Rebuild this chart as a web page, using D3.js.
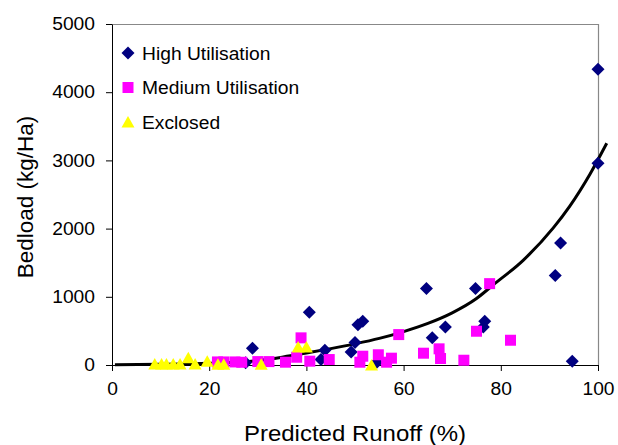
<!DOCTYPE html>
<html>
<head>
<meta charset="utf-8">
<script src="https://cdn.jsdelivr.net/npm/d3@7"></script>
<style>
body { margin: 0; background: white; }
text { font-family: 'Liberation Sans', Arial, sans-serif; fill: black; }
</style>
</head>
<body>
<script>
const width = 618;
const height = 445;

// High Utilisation  [predicted runoff %, bedload kg/Ha]
var highUtil = [[100, 4335], [100, 2958], [92.3, 1788], [91.2, 1314], [94.7, 56],
	[64.7, 1120], [74.8, 1120], [76.7, 641], [76.4, 559], [68.6, 559], [65.9, 398],
	[51.6, 641], [50.6, 592], [50.0, 330], [49.2, 190], [40.6, 773], [43.8, 215],
	[43.0, 80], [28.9, 245], [27.5, 32], [54.5, 40]];

// Medium Utilisation
var medUtil = [[77.7, 1193], [75.0, 495], [82.0, 363], [59.0, 446], [64.1, 173],
	[67.3, 237], [67.6, 95], [72.4, 70], [51.6, 129], [51.0, 41], [54.8, 150],
	[56.5, 41], [57.5, 100], [38.9, 398], [38.0, 114], [40.7, 56], [44.7, 80],
	[35.7, 41], [32.3, 50], [30.0, 50], [25.3, 45], [23.0, 45], [21.7, 45], [26.7, 40]];

// Exclosed
var exclosed = [[8.8, 15], [10.2, 15], [11.2, 15], [12.6, 15], [14.0, 15], [15.7, 105],
	[17.1, 15], [19.6, 56], [21.8, 10], [23.0, 10], [30.7, 10], [38.3, 263], [40.0, 263],
	[53.4, 0]];

// trend line
var trend = [[0.6, 5], [10, 10], [20, 25], [30, 65], [35, 115], [40, 175], [45, 240],
	[50, 310], [55, 390], [60, 490], [65, 610], [70, 765], [75, 975], [78.5, 1178],
	[84.6, 1535], [90.8, 2010], [94.2, 2330], [98.4, 2805], [101.8, 3251]];

var xTicks = [0, 20, 40, 60, 80, 100];
var yTicks = [0, 1000, 2000, 3000, 4000, 5000];
var legendNames = ['High Utilisation', 'Medium Utilisation', 'Exclosed'];

const svg = d3.select('body').append('svg').attr('width', width).attr('height', height);

var xs = d3.scaleLinear().domain([0, 100]).range([112, 598]);
var ys = d3.scaleLinear().domain([0, 5000]).range([365, 24]);

// the original text is a little wider than the font
function stretch(sel, k) {
	sel.each(function() {
		var w = this.getComputedTextLength();
		d3.select(this).attr('textLength', w * k).attr('lengthAdjust', 'spacingAndGlyphs');
	});
}

// plot frame (top / right in grey)
svg.append('path')
	.attr('d', 'M' + xs(0) + ',' + (ys(5000) + 0.5) + 'H' + (xs(100) + 0.5) + 'V' + ys(0))
	.style('fill', 'none')
	.style('stroke', '#888')
	.style('stroke-width', 1.2);

svg.append('g')
	.attr('transform', 'translate(0,' + ys(0) + ')')
	.call(d3.axisBottom(xs).tickValues(xTicks).tickFormat(d3.format('d'))
		.tickSizeInner(6).tickSizeOuter(0).tickPadding(12))
	.call(function(g) { g.selectAll('text').style('font-size', '17.5px').attr('fill', 'black').call(stretch, 1.1); })
	.call(function(g) { g.selectAll('line, path').style('stroke', 'black'); });

svg.append('g')
	.attr('transform', 'translate(' + xs(0) + ',0)')
	.call(d3.axisLeft(ys).tickValues(yTicks).tickFormat(d3.format('d'))
		.tickSizeInner(6).tickSizeOuter(0).tickPadding(11))
	.call(function(g) { g.selectAll('text').style('font-size', '17.5px').attr('fill', 'black').call(stretch, 1.1); })
	.call(function(g) { g.selectAll('line, path').style('stroke', 'black'); });

// trend line
svg.append('path')
	.datum(trend)
	.attr('d', d3.line()
		.x(function(d) { return xs(d[0]); })
		.y(function(d) { return ys(d[1]); })
		.curve(d3.curveMonotoneX))
	.style('fill', 'none')
	.style('stroke', 'black')
	.style('stroke-width', 3);

var diamond = 'M0,-6.5L6.5,0L0,6.5L-6.5,0Z';
var square = 'M-5.5,-5.5H5.5V5.5H-5.5Z';
var triangle = 'M0,-6L6.5,5.5H-6.5Z';

svg.append('g').selectAll('path')
	.data(highUtil)
	.enter()
	.append('path')
	.attr('d', diamond)
	.attr('transform', function(d) { return 'translate(' + xs(d[0]) + ',' + ys(d[1]) + ')'; })
	.style('fill', '#000080');

svg.append('g').selectAll('path')
	.data(medUtil)
	.enter()
	.append('path')
	.attr('d', square)
	.attr('transform', function(d) { return 'translate(' + xs(d[0]) + ',' + ys(d[1]) + ')'; })
	.style('fill', '#ff00ff');

svg.append('g').selectAll('path')
	.data(exclosed)
	.enter()
	.append('path')
	.attr('d', triangle)
	.attr('transform', function(d) { return 'translate(' + xs(d[0]) + ',' + ys(d[1]) + ')'; })
	.style('fill', '#ffff00');

// legend
var legend = svg.append('g');
var shapes = [diamond, square, triangle];
var colors = ['#000080', '#ff00ff', '#ffff00'];
legend.selectAll('path')
	.data(legendNames)
	.enter()
	.append('path')
	.attr('d', function(d, i) { return shapes[i]; })
	.attr('transform', function(d, i) { return 'translate(128,' + (53 + i * 34.5) + ')'; })
	.style('fill', function(d, i) { return colors[i]; });
legend.selectAll('text')
	.data(legendNames)
	.enter()
	.append('text')
	.attr('x', 142)
	.attr('y', function(d, i) { return 59.5 + i * 34.5; })
	.style('font-size', '17.5px')
	.text(function(d) { return d; })
	.call(stretch, 1.1);

// axis titles
svg.append('text')
	.attr('x', 355)
	.attr('y', 441)
	.attr('text-anchor', 'middle')
	.style('font-size', '22px')
	.text('Predicted Runoff (%)')
	.call(stretch, 1.09);

svg.append('text')
	.attr('transform', 'translate(33,197) rotate(-90)')
	.attr('text-anchor', 'middle')
	.style('font-size', '22.5px')
	.text('Bedload (kg/Ha)');
</script>
</body>
</html>
